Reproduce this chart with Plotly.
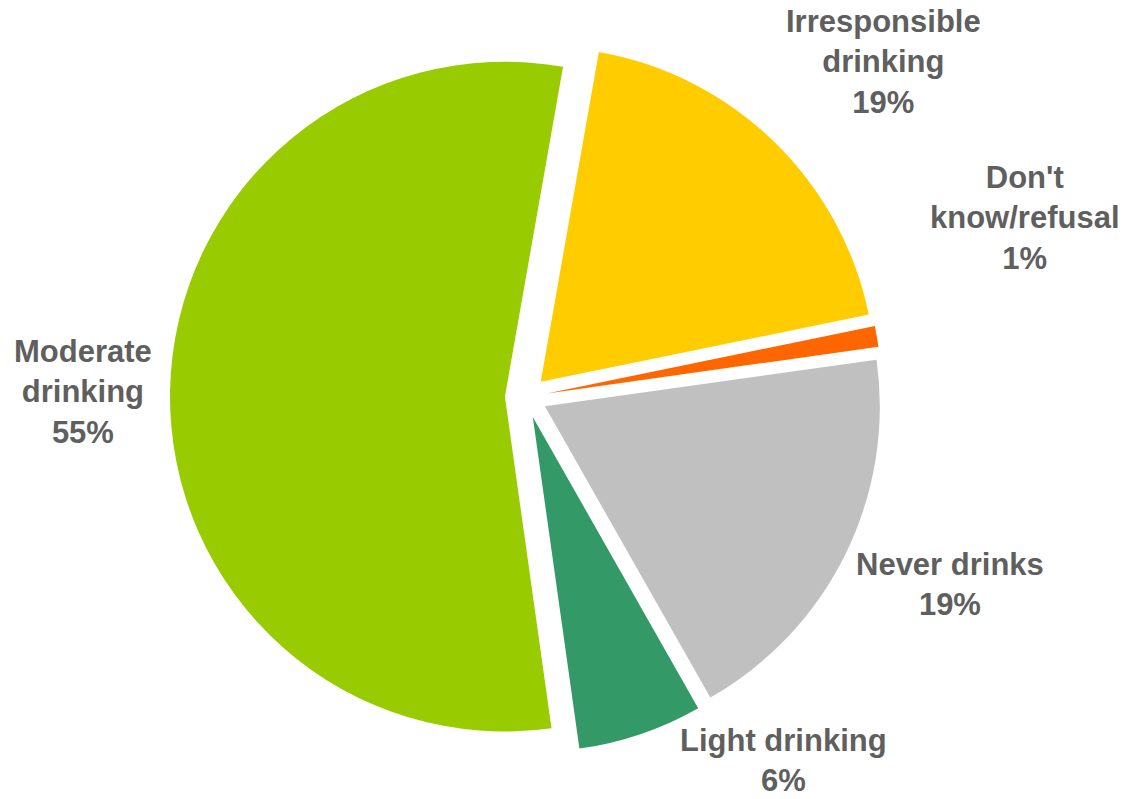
import plotly.graph_objects as go

# Drinking behaviour shares (percent), in clockwise order from the top
categories = ["Irresponsible drinking", "Don't know/refusal", "Never drinks",
              "Light drinking", "Moderate drinking"]
label_lines = ["Irresponsible<br>drinking", "Don't<br>know/refusal", "Never drinks",
               "Light drinking", "Moderate<br>drinking"]
shares = [19, 1, 19, 6, 55]
colors = ["#FFCC00", "#FF6600", "#C0C0C0", "#339966", "#99CC00"]

W, H = 1125, 799

fig = go.Figure(
    go.Pie(
        labels=categories,
        values=shares,
        sort=False,
        direction="clockwise",
        rotation=10,
        pull=[0.063] * len(shares),
        marker=dict(colors=colors, line=dict(width=0)),
        textinfo="none",
        hoverinfo="label+percent",
        domain=dict(x=[0.1511, 0.784], y=[0.0576, 0.9487]),
    )
)

# Label placement (pixel centres) for each category, outside the pie
label_pos = [(883, 62), (1025, 218), (950, 584), (783, 760), (83, 392)]
for text, val, (px, py) in zip(label_lines, shares, label_pos):
    fig.add_annotation(
        x=px / W, y=1 - py / H, xref="paper", yref="paper",
        text=f"{text}<br>{val}%",
        showarrow=False, xanchor="center", yanchor="middle", align="center",
        font=dict(family="Liberation Sans, Arial, sans-serif", size=31,
                  color="#5f5f5f", weight="bold"),
    )

fig.update_layout(
    width=W, height=H,
    margin=dict(l=0, r=0, t=0, b=0),
    showlegend=False,
    paper_bgcolor="white",
    plot_bgcolor="white",
)

fig.write_html("out.html")
